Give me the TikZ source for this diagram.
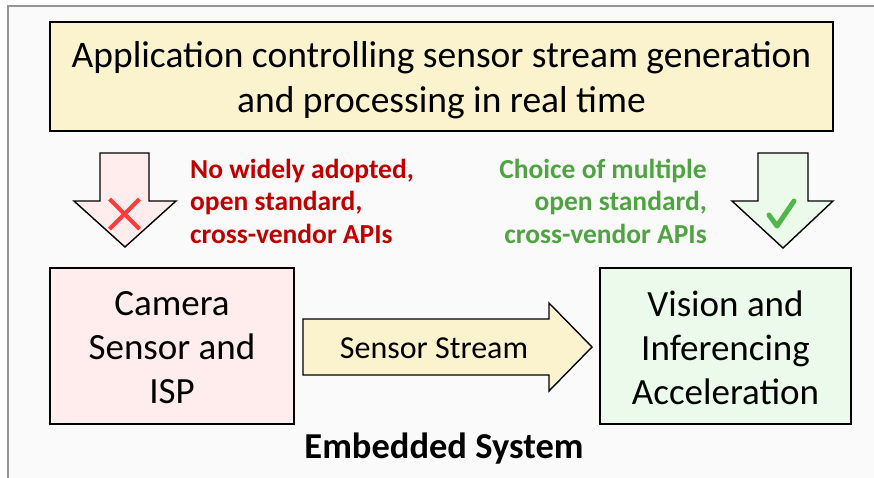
\documentclass[tikz,border=0pt]{standalone}
\usepackage{fontspec}
\setmainfont{Carlito}
\usetikzlibrary{calc}
\definecolor{panel}{RGB}{250,250,250}
\definecolor{framegray}{RGB}{150,150,150}
\definecolor{appfill}{RGB}{250,243,206}
\definecolor{pinkfill}{RGB}{255,236,236}
\definecolor{greenfill}{RGB}{236,250,236}
\definecolor{badred}{RGB}{192,0,0}
\definecolor{crossred}{RGB}{255,60,60}
\definecolor{goodgreen}{RGB}{78,164,64}
\definecolor{tickgreen}{RGB}{80,184,72}
\tikzset{
  boxshape/.style={draw=black, line width=1.6pt},
  blockarrow/.style={draw=black, line width=1.4pt, line join=miter},
  note/.style={font=\bfseries\fontsize{27.5}{32.5}\selectfont, inner sep=0pt},
  boxtext/.style={font=\fontsize{37}{44}\selectfont, align=center, inner sep=0pt}
}
\begin{document}
\begin{tikzpicture}[x=1pt,y=-1pt]
\useasboundingbox (0,0) rectangle (874,477);
\clip (0,0) rectangle (874,477);
\fill[white] (0,0) rectangle (874,477);
% panel that holds the embedded system
\draw[framegray, fill=panel, line width=1.5pt] (8,6) rectangle (900,500);

% application box
\draw[boxshape, fill=appfill] (50,22) rectangle (833,131);
\node[font=\fontsize{37.5}{45}\selectfont, align=center, inner sep=0pt] (app) at (441.5,80)
  {Application controlling sensor stream generation\\and processing in real time};

% left down arrow with a cross
\draw[blockarrow, fill=pinkfill] (100,153) -- (149,153) -- (149,201) -- (176,201)
  -- (125,247) -- (74,201) -- (100,201) -- cycle;
\coordinate (xc) at (124.5,214);
\draw[crossred, line width=4pt] ($(xc)+(-15,-15)$) -- ($(xc)+(15,15)$)
  ($(xc)+(15,-15)$) -- ($(xc)+(-15,15)$);

% right down arrow with a tick
\draw[blockarrow, fill=greenfill] (758,153) -- (808,153) -- (808,201) -- (833,201)
  -- (783,248) -- (732,201) -- (758,201) -- cycle;
\draw[tickgreen, line width=5pt, line cap=round, line join=round]
  (769,215) -- (777,226) -- (794,201);

% notes beside the down arrows
\node[note, badred, align=left, anchor=west] (bad) at (190,201)
  {No widely adopted,\\open standard,\\cross-vendor APIs};
\node[note, goodgreen, align=right, anchor=east] (good) at (707,201)
  {Choice of multiple\\open standard,\\cross-vendor APIs};

% camera and accelerator boxes
\draw[boxshape, fill=pinkfill] (50,268) rectangle (294,424);
\node[boxtext] (cam) at (172,347.5) {Camera\\Sensor and\\ISP};
\draw[boxshape, fill=greenfill] (600,268) rectangle (851,424);
\node[boxtext] (vis) at (725.5,347.5) {Vision and\\Inferencing\\Acceleration};

% sensor stream block arrow
\draw[blockarrow, fill=appfill] (303,319) -- (549,319) -- (549,303) -- (592,347)
  -- (549,391) -- (549,375) -- (303,375) -- cycle;
\node[font=\fontsize{32}{36}\selectfont, inner sep=0pt] (stream) at (434,348) {Sensor Stream};

% caption
\node[font=\bfseries\fontsize{36.5}{40}\selectfont, inner sep=0pt] (cap) at (444,449) {Embedded System};
\end{tikzpicture}
\end{document}
